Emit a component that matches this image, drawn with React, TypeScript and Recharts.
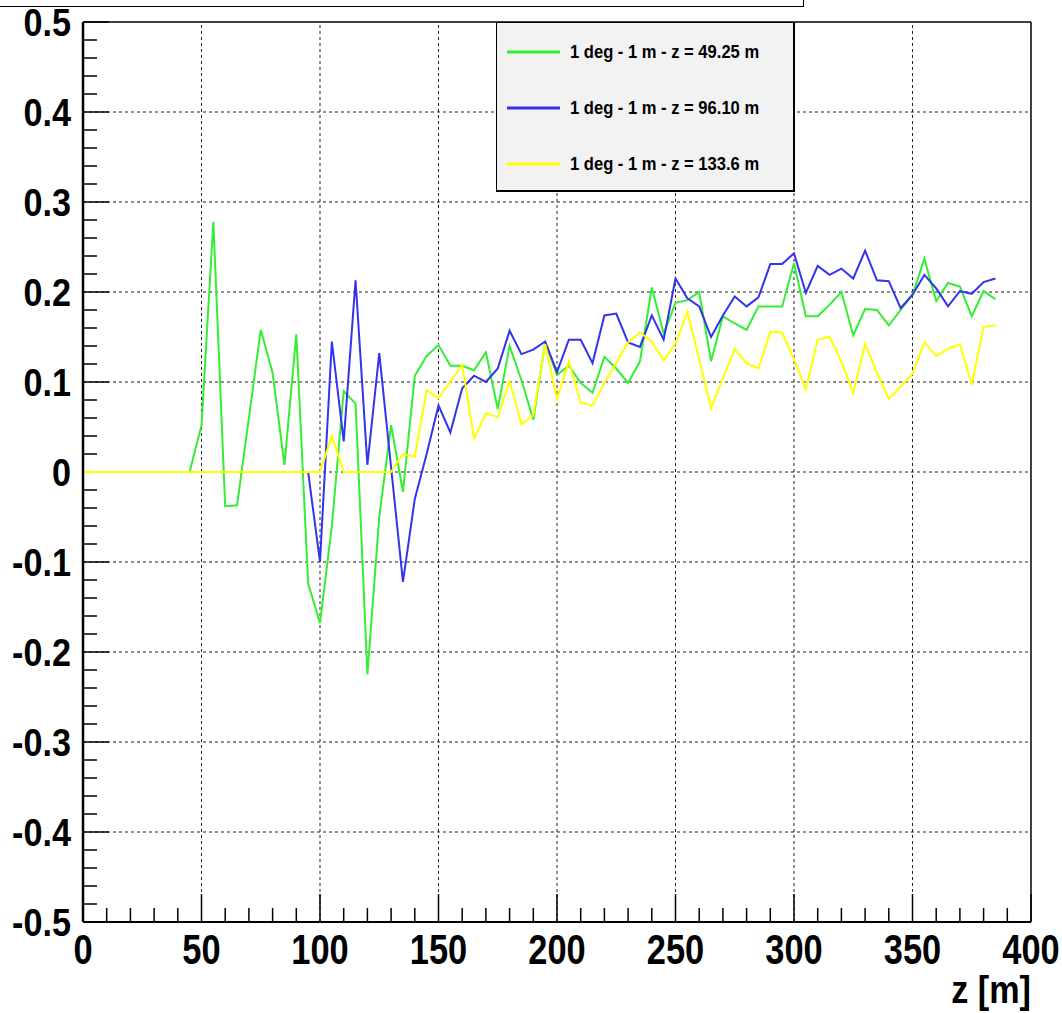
import { LineChart, Line, XAxis, YAxis, ReferenceLine, Label } from "recharts"

// z positions [m]
const zPos = [
  0, 5, 10, 15, 20, 25, 30, 35, 40, 45, 50, 55, 60, 65, 70, 75, 80, 85, 90, 95,
  100, 105, 110, 115, 120, 125, 130, 135, 140, 145, 150, 155, 160, 165, 170, 175, 180, 185, 190, 195,
  200, 205, 210, 215, 220, 225, 230, 235, 240, 245, 250, 255, 260, 265, 270, 275, 280, 285, 290, 295,
  300, 305, 310, 315, 320, 325, 330, 335, 340, 345, 350, 355, 360, 365, 370, 375, 380, 385,
]

const green = [
  0, 0, 0, 0, 0, 0, 0, 0, 0, 0, 0.052, 0.278, -0.038, -0.037, 0.06, 0.158, 0.11, 0.008, 0.153, -0.124,
  -0.168, -0.06, 0.09, 0.076, -0.225, -0.05, 0.052, -0.022, 0.107, 0.129, 0.141, 0.118, 0.118, 0.113, 0.133, 0.07, 0.14, 0.102, 0.058, 0.144,
  0.108, 0.118, 0.099, 0.088, 0.128, 0.115, 0.099, 0.123, 0.205, 0.154, 0.188, 0.191, 0.2, 0.123, 0.173, 0.165, 0.158, 0.184, 0.184, 0.184,
  0.232, 0.173, 0.173, 0.186, 0.2, 0.152, 0.181, 0.18, 0.163, 0.18, 0.197, 0.237, 0.19, 0.21, 0.206, 0.173, 0.201, 0.192,
]

const blue = [
  0, 0, 0, 0, 0, 0, 0, 0, 0, 0, 0, 0, 0, 0, 0, 0, 0, 0, 0, 0,
  -0.1, 0.145, 0.034, 0.213, 0.008, 0.132, 0.005, -0.122, -0.03, 0.02, 0.074, 0.044, 0.093, 0.107, 0.1, 0.115, 0.157, 0.131, 0.136, 0.145,
  0.111, 0.147, 0.147, 0.121, 0.174, 0.176, 0.144, 0.139, 0.174, 0.147, 0.215, 0.193, 0.184, 0.15, 0.174, 0.195, 0.184, 0.194, 0.231, 0.231,
  0.243, 0.199, 0.229, 0.219, 0.226, 0.215, 0.246, 0.213, 0.212, 0.182, 0.197, 0.219, 0.204, 0.184, 0.201, 0.198, 0.211, 0.215,
]

const yellow = [
  0, 0, 0, 0, 0, 0, 0, 0, 0, 0, 0, 0, 0, 0, 0, 0, 0, 0, 0, 0,
  0, 0.04, 0, 0, 0, 0, 0, 0.02, 0.017, 0.091, 0.082, 0.1, 0.119, 0.037, 0.065, 0.061, 0.101, 0.053, 0.063, 0.142,
  0.081, 0.123, 0.077, 0.074, 0.099, 0.121, 0.144, 0.155, 0.145, 0.124, 0.143, 0.178, 0.125, 0.071, 0.104, 0.137, 0.121, 0.115, 0.156, 0.155,
  0.125, 0.092, 0.147, 0.15, 0.123, 0.088, 0.142, 0.11, 0.081, 0.095, 0.109, 0.144, 0.129, 0.137, 0.142, 0.097, 0.161, 0.163,
]

const seriesNames = ["1 deg - 1 m - z = 49.25 m", "1 deg - 1 m - z = 96.10 m", "1 deg - 1 m - z = 133.6 m"]
const seriesColors = ["#33ee33", "#3333ee", "#ffff00"]

const xMajor = [0, 50, 100, 150, 200, 250, 300, 350, 400]
const yMajor = [-0.5, -0.4, -0.3, -0.2, -0.1, 0, 0.1, 0.2, 0.3, 0.4, 0.5]

const xMinor = Array.from({ length: 41 }, (_, i) => i * 10)
const yMinor = Array.from({ length: 51 }, (_, i) => Math.round((-0.5 + i * 0.02) * 100) / 100)

const data = zPos.map((z, i) => ({ z, g: green[i], b: blue[i], y: yellow[i] }))

const FONT = "'Liberation Sans', Arial, Helvetica, sans-serif"

const isMajor = (v: number, step: number) => Math.abs(v / step - Math.round(v / step)) < 1e-6

function XTick({ x, y, payload }: any) {
  const v = payload.value as number
  const major = isMajor(v, 50)
  return (
    <g>
      <line x1={x} x2={x} y1={y} y2={y - (major ? 28 : 14)} stroke="#000" strokeWidth={1.5} />
      {major && (
        <text
          transform={`translate(${x},${y + 42}) scale(0.82,1)`}
          textAnchor="middle"
          fontFamily={FONT}
          fontWeight="bold"
          fontSize={42}
          fill="#000"
        >
          {v}
        </text>
      )}
    </g>
  )
}

function YTick({ x, y, payload }: any) {
  const v = payload.value as number
  const major = isMajor(v, 0.1)
  return (
    <g>
      {v !== 0 && <line x1={x} x2={x + (major ? 26 : 14)} y1={y} y2={y} stroke="#000" strokeWidth={1.5} />}
      {major && (
        <text
          transform={`translate(${x - 12},${y + 14}) scale(0.9,1)`}
          textAnchor="end"
          fontFamily={FONT}
          fontWeight="bold"
          fontSize={38}
          fill="#000"
        >
          {v === 0 ? "0" : v.toFixed(1)}
        </text>
      )}
    </g>
  )
}

export default function App() {
  return (
    <div style={{ position: "absolute", left: 0, top: 0, width: 1062, height: 1013, background: "#fff", overflow: "hidden" }}>
      <LineChart width={1062} height={1013} data={data} margin={{ top: 22, right: 31, bottom: 0, left: 0 }}>
        <XAxis
          dataKey="z"
          type="number"
          domain={[0, 400]}
          ticks={xMinor}
          interval={0}
          height={91}
          tickSize={0}
          tickMargin={0}
          tickLine={false}
          tick={<XTick />}
          axisLine={{ stroke: "#000", strokeWidth: 2 }}
          allowDataOverflow
        >
          <Label
            content={({ viewBox }: any) => (
              <text
                transform={`translate(${viewBox.x + viewBox.width},${viewBox.y + 81}) scale(0.9,1)`}
                textAnchor="end"
                fontFamily={FONT}
                fontWeight="bold"
                fontSize={38}
                fill="#000"
              >
                z [m]
              </text>
            )}
          />
        </XAxis>
        <YAxis
          type="number"
          domain={[-0.5, 0.5]}
          ticks={yMinor}
          interval={0}
          width={83}
          tickSize={0}
          tickMargin={0}
          tickLine={false}
          tick={<YTick />}
          axisLine={{ stroke: "#000", strokeWidth: 2.5 }}
          allowDataOverflow
        />
        {xMajor.slice(1, -1).map((v) => (
          <ReferenceLine key={"gx" + v} x={v} stroke="#222" strokeWidth={1} strokeDasharray="3 3" />
        ))}
        {yMajor.slice(1, -1).map((v) => (
          <ReferenceLine key={"gy" + v} y={v} stroke="#222" strokeWidth={1} strokeDasharray="3 3" />
        ))}
        <ReferenceLine x={400} stroke="#000" strokeWidth={1.5} />
        <ReferenceLine y={0.5} stroke="#000" strokeWidth={1.5} />
        <Line dataKey="g" type="linear" stroke={seriesColors[0]} strokeWidth={2} dot={false} isAnimationActive={false} />
        <Line dataKey="b" type="linear" stroke={seriesColors[1]} strokeWidth={2} dot={false} isAnimationActive={false} />
        <Line dataKey="y" type="linear" stroke={seriesColors[2]} strokeWidth={2} dot={false} isAnimationActive={false} />
      </LineChart>

      {/* title box remnant at the very top */}
      <div style={{ position: "absolute", left: -2, top: -2, width: 805, height: 8, border: "1.5px solid #000", borderTop: "none", borderLeft: "none", background: "#fff" }} />

      {/* legend */}
      <div
        style={{
          position: "absolute",
          left: 496,
          top: 22,
          width: 296,
          height: 167,
          background: "#f2f2f2",
          borderLeft: "1px solid #000",
          borderTop: "1px solid #000",
          borderRight: "2px solid #000",
          borderBottom: "2px solid #000",
          fontFamily: FONT,
          fontWeight: "bold",
          fontSize: 18,
        }}
      >
        {seriesNames.map((name, i) => (
          <div key={name} style={{ position: "absolute", left: 10, top: 18 + i * 56, height: 22, display: "flex", alignItems: "center" }}>
            <svg width={53} height={6} style={{ display: "block" }}>
              <line x1={0} x2={53} y1={3} y2={3} stroke={seriesColors[i]} strokeWidth={3} />
            </svg>
            <span
              style={{
                marginLeft: 10,
                whiteSpace: "nowrap",
                color: "#000",
                display: "inline-block",
                transform: "scaleX(0.92)",
                transformOrigin: "left center",
              }}
            >
              {name}
            </span>
          </div>
        ))}
      </div>
    </div>
  )
}
